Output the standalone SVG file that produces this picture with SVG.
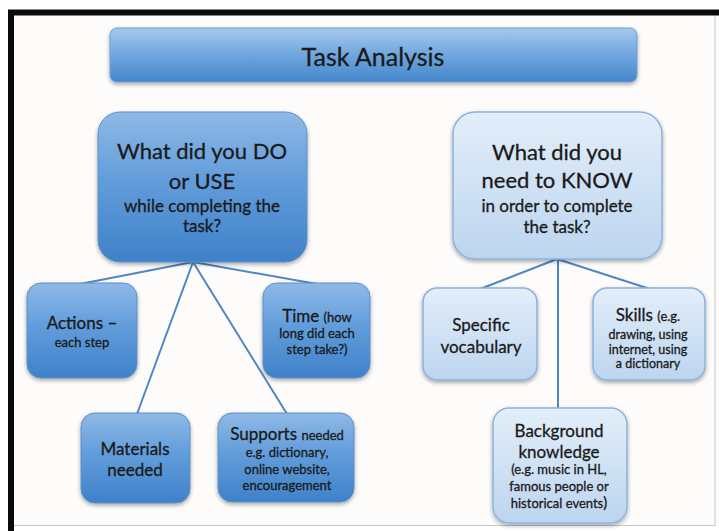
<svg xmlns="http://www.w3.org/2000/svg" width="719" height="531" viewBox="0 0 719 531">
  <defs>
    <linearGradient id="gDark" x1="0" y1="0" x2="0" y2="1">
      <stop offset="0" stop-color="#8fb9e6"/>
      <stop offset="0.45" stop-color="#629ddb"/>
      <stop offset="1" stop-color="#3f81c9"/>
    </linearGradient>
    <linearGradient id="gTitle" x1="0" y1="0" x2="0" y2="1">
      <stop offset="0" stop-color="#a7c9ec"/>
      <stop offset="0.5" stop-color="#6fa6de"/>
      <stop offset="1" stop-color="#4486cc"/>
    </linearGradient>
    <linearGradient id="gLight" x1="0" y1="0" x2="0" y2="1">
      <stop offset="0" stop-color="#e3eef9"/>
      <stop offset="1" stop-color="#bcd5ef"/>
    </linearGradient>
    <filter id="shadow" x="-10%" y="-10%" width="120%" height="130%">
      <feGaussianBlur in="SourceAlpha" stdDeviation="2"/>
      <feOffset dx="0" dy="2" result="b"/>
      <feComponentTransfer><feFuncA type="linear" slope="0.35"/></feComponentTransfer>
      <feMerge><feMergeNode/><feMergeNode in="SourceGraphic"/></feMerge>
    </filter>
  </defs>
  <style>
    text { font-family: Lato, "Liberation Sans", sans-serif; fill: #1a1a1a; stroke: #1a1a1a; stroke-width: 0.3; text-anchor: middle; }
    .dark { fill: url(#gDark); stroke: #5a8fc8; stroke-width: 1; filter: url(#shadow); }
    .light { fill: url(#gLight); stroke: #8cb2dc; stroke-width: 1.5; filter: url(#shadow); }
    .title { fill: url(#gTitle); stroke: #6d9fd4; stroke-width: 1; filter: url(#shadow); }
    .big { font-size: 22px; }
    .q { font-size: 17px; }
    .mid { font-size: 17px; }
    .sm { font-size: 13px; }
    .xs { font-size: 12.5px; }
    .edge { stroke: #4f86c4; stroke-width: 2; fill: none; }
  </style>

  <!-- page and frame -->
  <rect x="0" y="0" width="719" height="531" fill="#ffffff"/>
  <rect x="11" y="12" width="708" height="514" fill="#fdfcfb"/>
  <line x1="715" y1="15" x2="715" y2="526" stroke="#c8c8c8" stroke-width="1"/>
  <line x1="14" y1="525.5" x2="715" y2="525.5" stroke="#c8c8c8" stroke-width="1"/>
  <path d="M11 531 V12.5 H719" fill="none" stroke="#0a0a0a" stroke-width="6"/>

  <!-- connectors -->
  <g id="connectors">
    <line class="edge" x1="193" y1="262" x2="80" y2="284"/>
    <line class="edge" x1="193" y1="262" x2="317" y2="284"/>
    <line class="edge" x1="193" y1="262" x2="137" y2="414"/>
    <line class="edge" x1="193" y1="262" x2="287" y2="414"/>
    <line class="edge" x1="557" y1="259" x2="480" y2="289"/>
    <line class="edge" x1="557" y1="259" x2="650" y2="289"/>
    <line class="edge" x1="558" y1="259" x2="558" y2="409"/>
  </g>

  <g id="title">
    <rect class="title" x="110" y="28" width="527" height="54" rx="7"/>
    <text x="373" y="66" style="font-size:25px">Task Analysis</text>
  </g>

  <g id="do-use">
    <rect class="dark" x="98" y="112" width="209" height="150" rx="22"/>
    <text class="big" x="202" y="159">What did you DO</text>
    <text class="big" x="202" y="189">or USE</text>
    <text class="q" x="202" y="212">while completing the</text>
    <text class="q" x="202" y="232">task?</text>
  </g>

  <g id="know">
    <rect class="light" x="453" y="112" width="209" height="147" rx="22"/>
    <text class="big" x="557" y="160">What did you</text>
    <text class="big" x="557" y="188">need to KNOW</text>
    <text class="q" x="557" y="212">in order to complete</text>
    <text class="q" x="557" y="233">the task?</text>
  </g>

  <g id="actions">
    <rect class="dark" x="27" y="283" width="110" height="95" rx="14"/>
    <text class="mid" x="82" y="329">Actions –</text>
    <text class="sm" x="82" y="347">each step</text>
  </g>

  <g id="time">
    <rect class="dark" x="263" y="283" width="107" height="95" rx="14"/>
    <text x="317" y="322"><tspan class="mid">Time </tspan><tspan class="sm">(how</tspan></text>
    <text class="sm" x="317" y="338">long did each</text>
    <text class="sm" x="317" y="354">step take?)</text>
  </g>

  <g id="materials">
    <rect class="dark" x="81" y="413" width="109" height="90" rx="14"/>
    <text class="mid" x="135" y="455">Materials</text>
    <text class="mid" x="135" y="476">needed</text>
  </g>

  <g id="supports">
    <rect class="dark" x="218" y="413" width="136" height="89" rx="14"/>
    <text x="287" y="440"><tspan class="mid">Supports </tspan><tspan class="sm">needed</tspan></text>
    <text class="sm" x="287" y="457">e.g. dictionary,</text>
    <text class="sm" x="287" y="474">online website,</text>
    <text class="sm" x="287" y="490">encouragement</text>
  </g>

  <g id="vocabulary">
    <rect class="light" x="423" y="288" width="114" height="92" rx="14"/>
    <text class="mid" x="481" y="331">Specific</text>
    <text class="mid" x="481" y="353">vocabulary</text>
  </g>

  <g id="skills">
    <rect class="light" x="593" y="288" width="112" height="92" rx="14"/>
    <text x="648" y="321"><tspan class="mid">Skills </tspan><tspan class="sm">(e.g.</tspan></text>
    <text class="xs" x="648" y="339">drawing, using</text>
    <text class="xs" x="648" y="353.5">internet, using</text>
    <text class="xs" x="648" y="368">a dictionary</text>
  </g>

  <g id="background">
    <rect class="light" x="493" y="408" width="134" height="115" rx="16"/>
    <text class="mid" x="559" y="437">Background</text>
    <text class="mid" x="559" y="458">knowledge</text>
    <text class="sm" x="559" y="474">(e.g. music in HL,</text>
    <text class="sm" x="559" y="491">famous people or</text>
    <text class="sm" x="559" y="508">historical events<tspan style="font-size:15px">)</tspan></text>
  </g>
</svg>
